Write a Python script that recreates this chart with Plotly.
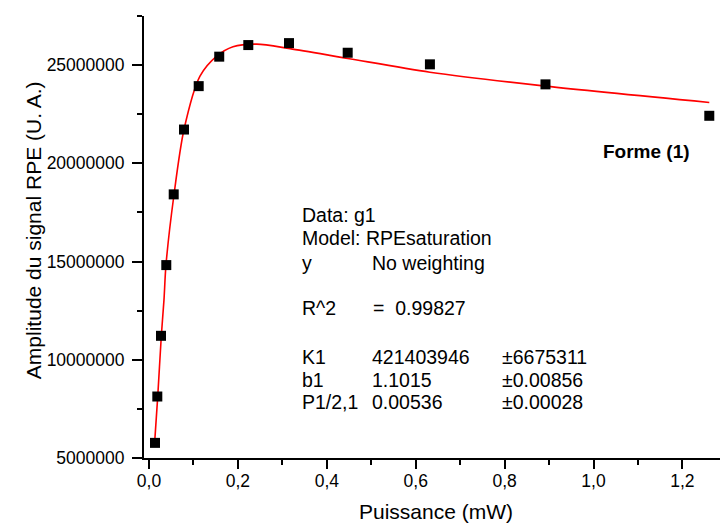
import plotly.graph_objects as go

# Measured data (power in mW, EPR signal amplitude in a.u.)
puissance = [0.0135, 0.0187, 0.0270, 0.0389, 0.0556, 0.0787, 0.1118, 0.158,
             0.2234, 0.315, 0.447, 0.632, 0.892, 1.2605]
amplitude = [5770000, 8130000, 11220000, 14820000, 18420000, 21720000, 23930000,
             25430000, 26020000, 26120000, 25630000, 25040000, 24020000, 22420000]

# Fitted curve (RPEsaturation model)
fit_x = [0.0128, 0.0196, 0.0277, 0.0337, 0.0382, 0.0562, 0.0787, 0.1147,
         0.1523, 0.189, 0.2423, 0.3172, 0.447, 0.632, 0.892, 1.2605]
fit_y = [5820000, 8110000, 11210000, 13050000, 14830000, 18400000, 21720000,
         24440000, 25460000, 25940000, 26070000, 25840000, 25340000,
         24640000, 23930000, 23100000]

x_tickvals = [0.0, 0.2, 0.4, 0.6, 0.8, 1.0, 1.2]
x_ticktext = ["0,0", "0,2", "0,4", "0,6", "0,8", "1,0", "1,2"]
y_tickvals = [5000000, 10000000, 15000000, 20000000, 25000000]
y_ticktext = ["5000000", "10000000", "15000000", "20000000", "25000000"]

col1 = ["Data: g1", "Model: RPEsaturation", "y", "R^2", "K1", "b1", "P1/2,1"]
col2 = ["No weighting", "=  0.99827", "421403946", "1.1015", "0.00536"]
col3 = ["±6675311", "±0.00856", "±0.00028"]

FONT = "Liberation Sans, Arial, sans-serif"

fig = go.Figure()
fig.add_trace(go.Scatter(x=fit_x, y=fit_y, mode="lines",
                         line=dict(color="#ff0000", width=1.6, shape="spline", smoothing=0.8),
                         hoverinfo="skip", showlegend=False))
fig.add_trace(go.Scatter(x=puissance, y=amplitude, mode="markers",
                         marker=dict(symbol="square", size=10, color="black",
                                     line=dict(width=0)),
                         showlegend=False))

# pixel -> paper helpers (plot area: x 144..720, y 16..458)
L, R, T, B = 144, 720, 16, 457.7
def px(x):
    return (x - L) / (R - L)
def py(y):
    return (B - y) / (B - T)

ann = []
rows1 = [215, 238.3, 262.5, 308.3, 356.7, 379.3, 401.7]
for t, yy in zip(col1, rows1):
    ann.append(dict(text=t, x=px(300), y=py(yy)))
rows2 = [262.5, 308.3, 356.7, 379.3, 401.7]
xs2 = [370, 371, 370, 370, 370]
for t, yy, xx in zip(col2, rows2, xs2):
    ann.append(dict(text=t, x=px(xx), y=py(yy)))
rows3 = [356.7, 379.3, 401.7]
for t, yy in zip(col3, rows3):
    ann.append(dict(text=t, x=px(499.5), y=py(yy)))

annotations = []
for a in ann:
    annotations.append(dict(text=a["text"], x=a["x"], y=a["y"], xref="paper", yref="paper",
                            xanchor="left", yanchor="middle", showarrow=False,
                            font=dict(family=FONT, size=19.5, color="black")))
annotations.append(dict(text="<b>Forme (1)</b>", x=px(601), y=py(151.7), xref="paper",
                        yref="paper", xanchor="left", yanchor="middle", showarrow=False,
                        font=dict(family=FONT, size=19, color="black")))
annotations.append(dict(text="Puissance (mW)", x=px(436), y=py(511.5), xref="paper",
                        yref="paper", xanchor="center", yanchor="middle", showarrow=False,
                        font=dict(family=FONT, size=21, color="black")))
annotations.append(dict(text="Amplitude du signal RPE (U. A.)", x=px(33), y=py(230),
                        xref="paper", yref="paper", xanchor="center", yanchor="middle",
                        textangle=-90, showarrow=False,
                        font=dict(family=FONT, size=21, color="black")))

fig.update_layout(
    width=720, height=524,
    margin=dict(l=144, r=0, t=16, b=524 - 458),
    paper_bgcolor="white", plot_bgcolor="white",
    font=dict(family=FONT, color="black"),
    annotations=annotations,
    xaxis=dict(range=[-0.01125, 1.2846], showgrid=False, zeroline=False,
               showline=True, linecolor="black", linewidth=2,
               ticks="outside", ticklen=9, tickwidth=2, tickcolor="black",
               tickvals=x_tickvals, ticktext=x_ticktext, ticklabelstandoff=-3,
               tickfont=dict(family=FONT, size=17.5, color="black"),
               minor=dict(ticks="outside", ticklen=5, tickwidth=2, tickcolor="black",
                          dtick=0.1, tick0=0, showgrid=False)),
    yaxis=dict(range=[5000000, 27500000], showgrid=False, zeroline=False,
               showline=True, linecolor="black", linewidth=2,
               ticks="outside", ticklen=10, tickwidth=2, tickcolor="black",
               tickvals=y_tickvals, ticktext=y_ticktext, ticklabelstandoff=4,
               tickfont=dict(family=FONT, size=17.5, color="black"),
               minor=dict(ticks="outside", ticklen=5, tickwidth=2, tickcolor="black",
                          dtick=2500000, tick0=0, showgrid=False)),
)

fig.write_html("out.html", config={"displayModeBar": False},
               post_script="document.body.style.margin='0';document.body.style.overflow='hidden';")
